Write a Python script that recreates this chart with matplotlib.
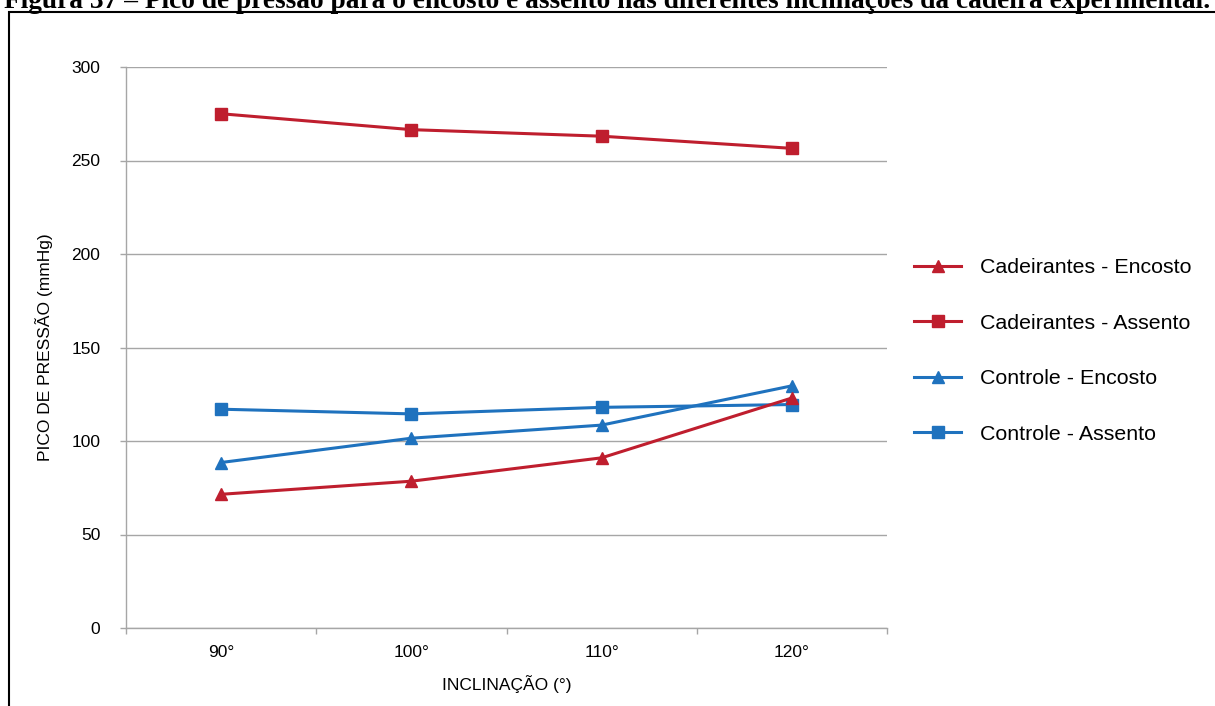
import matplotlib.pyplot as plt
from matplotlib.patches import Rectangle
import numpy as np

# pico de pressão (mmHg) por inclinação do encosto
inclinacoes = ["90°", "100°", "110°", "120°"]
cad_encosto = [71.5, 78.5, 91, 123]
cad_assento = [275, 266.5, 263, 256.5]
ctrl_encosto = [88.5, 101.5, 108.5, 129.5]
ctrl_assento = [117, 114.5, 118, 119.5]

vermelho = "#BF1E2E"
azul = "#1F72BE"
cinza = "#A6A6A6"

plt.rcParams["font.family"] = ["Liberation Sans", "DejaVu Sans"]

W, H = 1215, 706
fig = plt.figure(figsize=(W / 100, H / 100), dpi=100)
ax = fig.add_axes([126 / W, 78 / H, 761 / W, 561 / H])

x = np.arange(len(inclinacoes))
estilo = dict(lw=2.2, ms=9, solid_joinstyle="round")
l4, = ax.plot(x, ctrl_assento, color=azul, marker="s", label="Controle - Assento", **estilo)
l3, = ax.plot(x, ctrl_encosto, color=azul, marker="^", label="Controle - Encosto", **estilo)
l2, = ax.plot(x, cad_assento, color=vermelho, marker="s", label="Cadeirantes - Assento", **estilo)
l1, = ax.plot(x, cad_encosto, color=vermelho, marker="^", label="Cadeirantes - Encosto", **estilo)

ax.set_xlim(-0.5, len(inclinacoes) - 0.5)
ax.set_ylim(0, 300)
ax.set_yticks(np.arange(0, 301, 50))
ax.set_xticks(x)
ax.set_xticklabels(inclinacoes)
ax.set_xticks(np.arange(-0.5, len(inclinacoes), 1), minor=True)
ax.grid(axis="y", color=cinza, lw=1)
ax.set_axisbelow(True)

for s in ["top", "right"]:
    ax.spines[s].set_visible(False)
for s in ["left", "bottom"]:
    ax.spines[s].set_color(cinza)
    ax.spines[s].set_linewidth(1)

ax.tick_params(axis="y", length=4.5, color=cinza, width=1, labelsize=12.5, pad=14)
ax.tick_params(axis="x", which="major", length=0, labelsize=12.5, pad=12)
ax.tick_params(axis="x", which="minor", length=4, color=cinza, width=1)

ax.set_xlabel("INCLINAÇÃO (°)", fontsize=12.5, labelpad=11)
ax.set_ylabel("PICO DE PRESSÃO (mmHg)", fontsize=12.5, labelpad=13)

fig.legend(handles=[l1, l2, l3, l4], loc="center left",
           bbox_to_anchor=(914 / W, 1 - 351 / H), frameon=False,
           fontsize=15.4, handlelength=2.2, handletextpad=0.9,
           labelspacing=1.7, borderpad=0, borderaxespad=0)

# moldura da figura
fig.add_artist(Rectangle((9 / W, -0.1), 1.2, 1 - 12 / H + 0.1,
                         transform=fig.transFigure, fill=False,
                         ec="black", lw=1.5, clip_on=False))

fig.text(0.5, 1 - 8 / H,
         "Figura 37 – Pico de pressão para o encosto e assento nas diferentes inclinações da cadeira experimental.",
         ha="center", va="baseline", fontsize=19.7, fontweight="bold",
         family=["Liberation Serif", "DejaVu Serif"])

fig.savefig("out.png", dpi=100)
